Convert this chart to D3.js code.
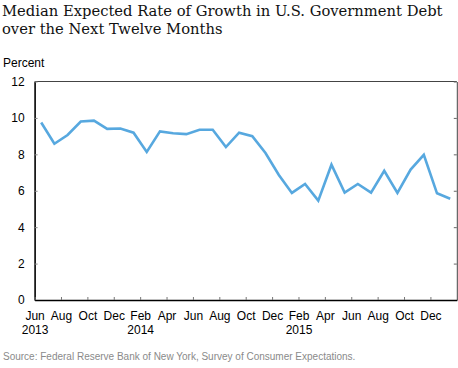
<!DOCTYPE html>
<html>
<head>
<meta charset="utf-8">
<script src="https://cdn.jsdelivr.net/npm/d3@7"></script>
<style>
  html, body { margin: 0; padding: 0; background: #fff; }
  svg { display: block; }
</style>
</head>
<body>
<svg id="chart" width="458" height="368"></svg>
<script>
// ---- Data ----
const months = ["Jun","Jul","Aug","Sep","Oct","Nov","Dec","Jan","Feb","Mar","Apr","May",
                "Jun","Jul","Aug","Sep","Oct","Nov","Dec","Jan","Feb","Mar","Apr","May",
                "Jun","Jul","Aug","Sep","Oct","Nov","Dec","Jan"];
const years = [2013,2013,2013,2013,2013,2013,2013,2014,2014,2014,2014,2014,
               2014,2014,2014,2014,2014,2014,2014,2015,2015,2015,2015,2015,
               2015,2015,2015,2015,2015,2015,2015,2016];
const values = [9.75, 8.58, 9.06, 9.8, 9.85, 9.4, 9.42, 9.19, 8.13, 9.26, 9.16, 9.11,
                9.35, 9.35, 8.4, 9.19, 9.0, 8.07, 6.88, 5.88, 6.37, 5.46, 7.43, 5.9,
                6.37, 5.9, 7.1, 5.88, 7.16, 7.97, 5.86, 5.56];
const yTicks = [0, 2, 4, 6, 8, 10, 12];
const xLabelIdx = [0, 2, 4, 6, 8, 10, 12, 14, 16, 18, 20, 22, 24, 26, 28, 30];
const yearLabels = {0: "2013", 8: "2014", 20: "2015"};
const titleLines = ["Median Expected Rate of Growth in U.S. Government Debt",
                    "over the Next Twelve Months"];
const unitLabel = "Percent";
const sourceText = "Source: Federal Reserve Bank of New York, Survey of Consumer Expectations.";

// ---- Layout ----
const L = 34.6, R = 456.8, T = 81.5, B = 300;
const svg = d3.select("#chart");
const sans = "'Liberation Sans', Arial, sans-serif";

const x = d3.scaleLinear().domain([0, months.length]).range([L, R]);
const y = d3.scaleLinear().domain([0, 12]).range([B, T]);

// Title
const title = svg.append("g");
const tl = titleLines.map((t, i) => title.append("text")
  .attr("x", 2).attr("y", i === 0 ? 15.7 : 34.3)
  .style("font-family", "'DejaVu Serif', Georgia, serif")
  .style("font-size", "16px")
  .attr("fill", "#111")
  .text(t));
const w0 = tl[0].node().getComputedTextLength();
const fs = 16 * 441 / w0;
tl.forEach(t => t.style("font-size", fs + "px"));

// Unit label
svg.append("text").attr("x", 3).attr("y", 66.5)
  .style("font-family", sans).style("font-size", "12px").attr("fill", "#000")
  .text(unitLabel);

// Top & right frame
svg.append("line").attr("x1", L).attr("x2", R).attr("y1", T).attr("y2", T)
  .attr("stroke", "#444").attr("stroke-width", 1);
const rightAx = svg.append("g").attr("transform", `translate(${R},0)`)
  .call(d3.axisRight(y).tickValues(yTicks).tickSizeInner(-3).tickSizeOuter(0).tickFormat(""));
rightAx.select(".domain").attr("stroke", "#444");
rightAx.selectAll(".tick line").attr("stroke", "#666");

// Left axis
const leftAx = svg.append("g").attr("transform", `translate(${L},0)`)
  .call(d3.axisLeft(y).tickValues(yTicks).tickSizeInner(-3).tickSizeOuter(0).tickPadding(10));
leftAx.select(".domain").attr("stroke", "#000").attr("stroke-width", 1.6);
leftAx.selectAll(".tick line").attr("stroke", "#888");
leftAx.selectAll("text").style("font-family", sans).style("font-size", "12px").attr("fill", "#000");

// Bottom axis
const botAx = svg.append("g").attr("transform", `translate(0,${B})`)
  .call(d3.axisBottom(x).tickValues(xLabelIdx).tickSizeInner(-3).tickSizeOuter(0)
    .tickPadding(11).tickFormat(i => months[i]));
botAx.select(".domain").attr("stroke", "#000").attr("stroke-width", 1.6);
botAx.selectAll(".tick line").attr("stroke", "#777");
botAx.selectAll("text").style("font-family", sans).style("font-size", "12px").attr("fill", "#000");
botAx.selectAll(".tick").filter(i => yearLabels[i])
  .append("text").attr("y", 33.6).attr("fill", "#000")
  .style("font-family", sans).style("font-size", "12px")
  .text(i => yearLabels[i]);

// Line
const line = d3.line().x((d, i) => x(i + 0.5)).y(d => y(d));
svg.append("path").datum(values)
  .attr("d", line)
  .attr("fill", "none")
  .attr("stroke", "#57a8df")
  .attr("stroke-width", 2.6)
  .attr("stroke-linejoin", "miter");

// Source
svg.append("text").attr("x", 3).attr("y", 360)
  .style("font-family", sans).style("font-size", "10px").attr("fill", "#8a8a8a")
  .text(sourceText);
</script>
</body>
</html>
